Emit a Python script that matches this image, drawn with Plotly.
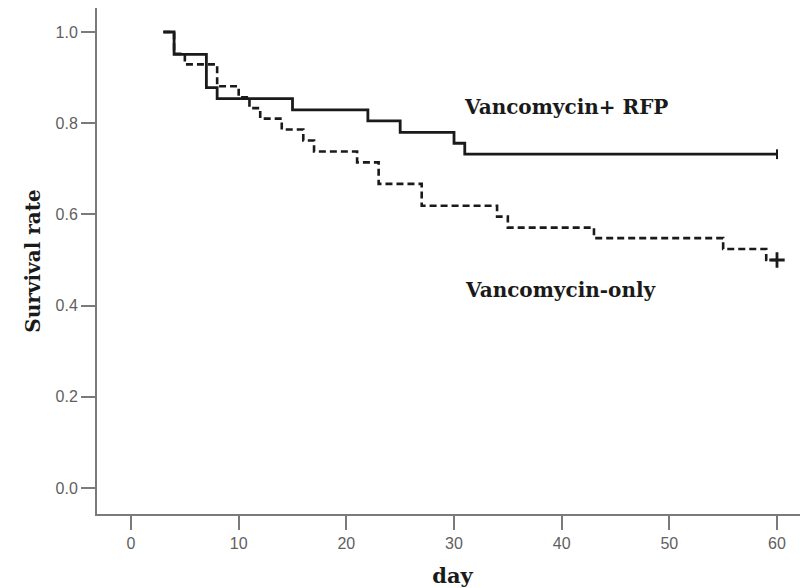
import plotly.graph_objects as go

# Kaplan-Meier step data
rfp_days = [3, 4, 7, 8, 15, 22, 25, 30, 31, 60]
rfp_surv = [1.0, 0.951, 0.878, 0.854, 0.829, 0.805, 0.780, 0.756, 0.732, 0.732]

only_days = [3, 4, 5, 8, 10, 11, 12, 14, 16, 17, 21, 23, 27, 34, 35, 43, 55, 59, 60]
only_surv = [1.0, 0.952, 0.929, 0.881, 0.857, 0.833, 0.810, 0.786, 0.762, 0.738,
             0.714, 0.667, 0.619, 0.595, 0.571, 0.548, 0.524, 0.500, 0.500]

x_ticks = [0, 10, 20, 30, 40, 50, 60]
y_ticks = [0.0, 0.2, 0.4, 0.6, 0.8, 1.0]
y_tick_labels = ["0.0", "0.2", "0.4", "0.6", "0.8", "1.0"]

label_rfp = "Vancomycin+ RFP"
label_only = "Vancomycin-only"

serif = "DejaVu Serif, Liberation Serif, serif"
sans = "Liberation Sans, Arial, sans-serif"

fig = go.Figure()

fig.add_trace(go.Scatter(
    x=rfp_days, y=rfp_surv, mode="lines", line_shape="hv",
    line=dict(color="#1a1a1a", width=2.8), showlegend=False, name=label_rfp))
fig.add_trace(go.Scatter(
    x=only_days, y=only_surv, mode="lines", line_shape="hv",
    line=dict(color="#1a1a1a", width=2.6, dash="7px,4px"), showlegend=False, name=label_only))

# censor marks at the end of follow-up
fig.add_trace(go.Scatter(
    x=[rfp_days[-1]], y=[rfp_surv[-1]], mode="markers",
    marker=dict(symbol="line-ns", size=7, line=dict(color="#1a1a1a", width=2)),
    showlegend=False, hoverinfo="skip"))
fig.add_trace(go.Scatter(
    x=[only_days[-1]], y=[only_surv[-1]], mode="markers",
    marker=dict(symbol="cross-thin", size=11, line=dict(color="#1a1a1a", width=2.8)),
    showlegend=False, hoverinfo="skip"))

fig.add_annotation(x=30.75, y=0.836, xref="x", yref="y", text=label_rfp, showarrow=False,
                   xanchor="left", yanchor="middle",
                   font=dict(family=serif, size=20, color="#1a1a1a", weight="bold"))
fig.add_annotation(x=30.8, y=0.434, xref="x", yref="y", text=label_only, showarrow=False,
                   xanchor="left", yanchor="middle",
                   font=dict(family=serif, size=20, color="#1a1a1a", weight="bold"))

axis_color = "#7a7a7a"
fig.update_xaxes(
    range=[-3.16, 62.88], tickvals=x_ticks, ticktext=[str(v) for v in x_ticks],
    showgrid=False, zeroline=False, showline=True, linecolor=axis_color, linewidth=2,
    mirror=True, ticks="outside", ticklen=14, tickwidth=2, tickcolor=axis_color,
    tickfont=dict(family=sans, size=16, color="#5f5f5f"), automargin=False,
    title=dict(text="day", font=dict(family=serif, size=21, color="#1a1a1a", weight="bold"),
               standoff=17))
fig.update_yaxes(
    range=[-0.057, 1.0526], tickvals=y_ticks, ticktext=y_tick_labels,
    showgrid=False, zeroline=False, showline=True, linecolor=axis_color, linewidth=2,
    mirror=False, ticks="outside", ticklen=14, tickwidth=2, tickcolor=axis_color,
    tickfont=dict(family=sans, size=16, color="#5f5f5f"), automargin=False,
    title=dict(text="Survival rate", font=dict(family=serif, size=20, color="#1a1a1a", weight="bold"),
               standoff=10))

# the page body adds an 8px offset, so the figure is 8px smaller than the window
fig.update_layout(
    width=800, height=580,
    margin=dict(l=89, r=0, t=0, b=74),
    plot_bgcolor="white", paper_bgcolor="white",
)

fig.write_html("out.html")
